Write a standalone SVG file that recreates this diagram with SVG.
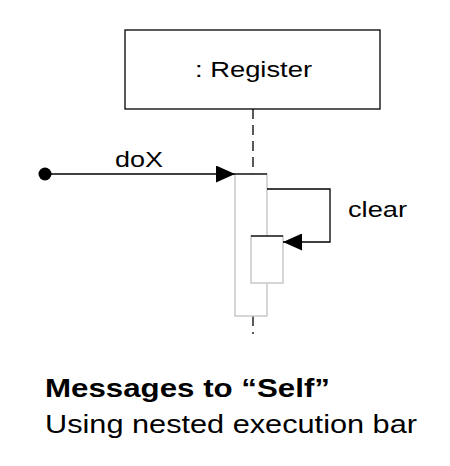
<svg xmlns="http://www.w3.org/2000/svg" width="450" height="466" viewBox="0 0 450 466">
<style>
  text { font-family: "Liberation Sans", Arial, sans-serif; fill: #000; }
  .lbl { font-size: 22px; }
  .bar { fill: #fff; stroke: #c8c8c8; stroke-width: 1.5; }
  .ln { fill: none; stroke: #000; stroke-width: 1.3; }
  .life { fill: none; stroke: #000; stroke-width: 1.3; stroke-dasharray: 10 6; }
</style>
<defs>
  <marker id="arr" markerWidth="19" markerHeight="17" refX="19" refY="8.5" orient="auto" markerUnits="userSpaceOnUse">
    <path d="M0,0 L19,8.5 L0,17 Z" fill="#000"/>
  </marker>
</defs>
<rect width="450" height="466" fill="#fff"/>
<g id="register">
  <rect x="125" y="30" width="255" height="79" fill="#fff" stroke="#000" stroke-width="1.3"/>
  <text class="lbl" x="195" y="77" textLength="117" lengthAdjust="spacingAndGlyphs" font-size="21">: Register</text>
</g>
<g id="lifeline">
  <line class="life" x1="253" y1="109" x2="253" y2="174"/>
  <line class="life" x1="253" y1="316" x2="253" y2="334"/>
</g>
<g id="execution-bar">
  <rect class="bar" x="235" y="174" width="32" height="142"/>
  <rect class="bar" x="251" y="236" width="32" height="47"/>
</g>
<g id="connectors">
  <circle cx="45" cy="174" r="6.5" fill="#000"/>
  <line class="ln" x1="45" y1="174" x2="235" y2="174" marker-end="url(#arr)"/>
  <line class="ln" x1="235" y1="174" x2="267" y2="174"/>
  <polyline class="ln" points="267,189 330,189 330,242 283,242" marker-end="url(#arr)"/>
  <line class="ln" x1="251" y1="236" x2="283" y2="236" stroke="#555"/>
  <text class="lbl" x="115" y="167" textLength="48" lengthAdjust="spacingAndGlyphs">doX</text>
  <text class="lbl" x="348" y="217" textLength="59" lengthAdjust="spacingAndGlyphs" font-size="23">clear</text>
</g>
<g id="caption">
  <text x="45" y="397" font-size="26" font-weight="bold" textLength="285" lengthAdjust="spacingAndGlyphs">Messages to “Self”</text>
  <text x="45" y="433" font-size="26" textLength="372" lengthAdjust="spacingAndGlyphs">Using nested execution bar</text>
</g>
</svg>
